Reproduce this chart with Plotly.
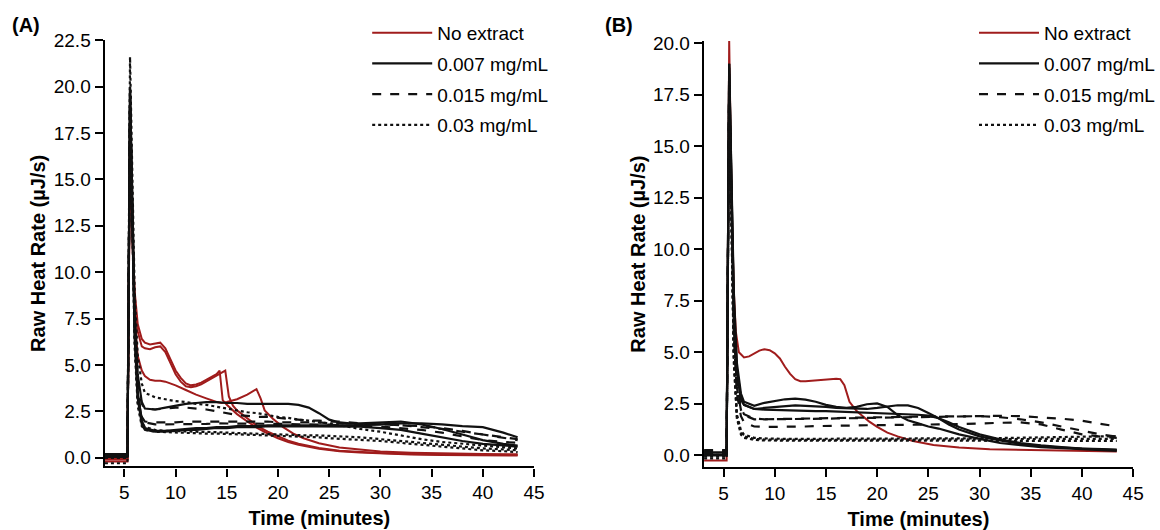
import plotly.graph_objects as go

# ---------------- data ----------------
T = [3.1, 4.0, 5.0, 5.3, 5.55, 5.8, 6.0, 6.3, 6.7, 7.0,
     8, 9, 10, 11, 12, 13, 14, 15, 16, 17, 18, 19, 20, 21, 22, 23, 24, 25, 26, 27, 28,
     30, 32, 34, 36, 38, 40, 42, 43.4]

series_names = ["No extract", "0.007 mg/mL", "0.015 mg/mL", "0.03 mg/mL"]
x_ticks = [5, 10, 15, 20, 25, 30, 35, 40, 45]

# ---- Panel A ----
A_r1_t = [3.1, 5.3, 5.55, 5.8, 6.0, 6.3, 6.7, 7.0, 7.5, 8.0, 8.5, 9.0, 9.5, 10.0, 10.5, 11.0, 11.5, 12.0,
          12.5, 13.0, 13.5, 14.0, 14.3, 14.6, 15.0, 15.5, 16.0, 17.0, 18.0, 19.0, 20.0, 21.0, 22.0, 24.0,
          26.0, 28.0, 30.0, 33.0, 36.0, 40.0, 43.4]
A_r1_y = [-0.1, -0.1, 18.0, 12.0, 9.0, 7.2, 6.4, 6.2, 6.1, 6.15, 6.2, 5.9, 5.3, 4.7, 4.3, 4.0, 3.9, 3.95,
          4.05, 4.2, 4.35, 4.5, 4.7, 3.1, 2.85, 2.6, 2.35, 1.95, 1.6, 1.3, 1.05, 0.85, 0.7, 0.48,
          0.35, 0.28, 0.22, 0.17, 0.15, 0.13, 0.12]
A_r2_t = [3.1, 5.3, 5.55, 5.8, 6.0, 6.3, 6.7, 7.0, 7.5, 8.0, 8.5, 9.0, 9.5, 10.0, 10.5, 11.0, 11.5, 12.0,
          12.5, 13.0, 13.5, 14.0, 14.5, 14.85, 15.2, 15.6, 16.0, 17.0, 18.0, 19.0, 20.0, 21.0, 22.0, 24.0,
          26.0, 28.0, 30.0, 33.0, 36.0, 40.0, 43.4]
A_r2_y = [-0.2, -0.2, 17.5, 11.5, 8.5, 6.8, 6.0, 5.9, 5.85, 5.95, 6.0, 5.7, 5.1, 4.5, 4.1, 3.85, 3.8, 3.85,
          3.95, 4.1, 4.25, 4.4, 4.55, 4.7, 3.3, 2.8, 2.55, 2.1, 1.7, 1.4, 1.15, 0.92, 0.75, 0.52,
          0.38, 0.3, 0.25, 0.2, 0.17, 0.15, 0.14]
A_r3_t = [3.1, 5.3, 5.55, 5.8, 6.0, 6.3, 6.7, 7.0, 7.5, 8.0, 8.5, 9.0, 10.0, 11.0, 12.0, 13.0, 14.0, 14.5,
          15.0, 16.0, 17.0, 17.9, 18.3, 18.7, 19.5, 20.5, 21.5, 22.5, 24.0, 26.0, 28.0, 30.0, 33.0, 36.0,
          40.0, 43.4]
A_r3_y = [-0.05, -0.05, 17.0, 11.0, 7.5, 5.5, 4.7, 4.4, 4.2, 4.15, 4.15, 4.1, 3.9, 3.65, 3.4, 3.2, 3.0, 2.95,
          3.0, 3.15, 3.4, 3.7, 3.2, 2.55, 2.1, 1.65, 1.3, 1.05, 0.78, 0.55, 0.42, 0.33, 0.27, 0.23,
          0.2, 0.19]

A_s1 = [0.2, 0.2, 0.2, 0.2, 20.0, 13.0, 8.0, 4.5, 3.0, 2.65,
        2.6, 2.7, 2.8, 2.9, 2.95, 3.0, 3.0, 2.95, 2.95, 2.9, 2.9, 2.9, 2.9, 2.9, 2.85, 2.7, 2.4, 2.05, 1.9, 1.85, 1.85,
        1.9, 1.95, 1.8, 1.55, 1.25, 0.95, 0.75,
        0.65]
A_s2 = [0.1, 0.1, 0.1, 0.1, 19.5, 12.0, 7.0, 3.5, 2.0, 1.6,
        1.45, 1.45, 1.5, 1.55, 1.6, 1.6, 1.65, 1.65, 1.7, 1.7, 1.7, 1.75, 1.75, 1.75, 1.75, 1.75, 1.75, 1.75, 1.75, 1.75, 1.75,
        1.8, 1.85, 1.85, 1.8, 1.7, 1.65, 1.35,
        1.1]
A_s3 = [0.05, 0.05, 0.05, 0.05, 19.0, 11.5, 6.5, 3.2, 1.8, 1.5,
        1.4, 1.4, 1.45, 1.5, 1.5, 1.55, 1.6, 1.6, 1.65, 1.65, 1.65, 1.7, 1.7, 1.7, 1.7, 1.7, 1.7, 1.7, 1.7, 1.7, 1.68,
        1.6, 1.5, 1.3, 1.1, 0.9, 0.75, 0.65,
        0.6]
A_d1 = [0.2, 0.2, 0.2, 0.2, 20.0, 12.5, 7.5, 4.0, 2.9, 2.65,
        2.6, 2.65, 2.7, 2.7, 2.65, 2.6, 2.5, 2.4, 2.3, 2.25, 2.2, 2.2, 2.15, 2.1, 2.05, 2.0, 2.0, 1.95, 1.95, 1.9, 1.85,
        1.8, 1.75, 1.65, 1.55, 1.4, 1.25, 1.1,
        1.0]
A_d2 = [0.15, 0.15, 0.15, 0.15, 19.5, 12.0, 7.0, 3.5, 2.2, 1.95,
        1.9, 1.9, 1.9, 1.95, 1.95, 1.95, 1.95, 1.95, 1.95, 1.95, 1.95, 1.95, 1.9, 1.9, 1.9, 1.9, 1.9, 1.85, 1.85, 1.85, 1.8,
        1.8, 1.75, 1.7, 1.6, 1.45, 1.25, 1.05,
        0.95]
A_d3 = [0.1, 0.1, 0.1, 0.1, 19.2, 11.8, 6.8, 3.4, 2.1, 1.9,
        1.8, 1.8, 1.8, 1.8, 1.82, 1.82, 1.85, 1.85, 1.85, 1.85, 1.85, 1.85, 1.85, 1.82, 1.8, 1.8, 1.8, 1.78, 1.75, 1.75, 1.72,
        1.68, 1.6, 1.5, 1.35, 1.15, 0.95, 0.85,
        0.8]
A_p1 = [0.0, 0.0, 0.0, 0.0, 21.6, 14.0, 9.0, 5.5, 4.0, 3.5,
        3.25, 3.15, 3.05, 3.0, 2.9, 2.85, 2.75, 2.65, 2.55, 2.45, 2.4, 2.3, 2.2, 2.15, 2.05, 2.0, 1.9, 1.85, 1.75, 1.65, 1.55,
        1.4, 1.2, 1.0, 0.85, 0.75, 0.65, 0.55,
        0.5]
A_p2 = [-0.3, -0.3, -0.3, -0.3, 20.0, 12.0, 6.5, 3.0, 1.9, 1.65,
        1.5, 1.45, 1.45, 1.42, 1.4, 1.4, 1.38, 1.35, 1.33, 1.3, 1.3, 1.28, 1.25, 1.25, 1.22, 1.2, 1.2, 1.18, 1.15, 1.12, 1.1,
        1.0, 0.9, 0.8, 0.7, 0.6, 0.5, 0.45,
        0.4]
A_p3 = [0.0, 0.0, 0.0, 0.0, 19.5, 11.5, 6.0, 2.8, 1.7, 1.5,
        1.4, 1.38, 1.35, 1.35, 1.33, 1.3, 1.3, 1.28, 1.25, 1.25, 1.22, 1.2, 1.2, 1.18, 1.15, 1.12, 1.1, 1.05, 1.02, 1.0, 0.98,
        0.9, 0.8, 0.7, 0.6, 0.5, 0.4, 0.35,
        0.3]

# ---- Panel B ----
B_r_t = [3.1, 5.3, 5.55, 5.8, 6.0, 6.2, 6.5, 7.0, 7.5, 8.0, 8.5, 9.0, 9.5, 10.0, 10.5, 11.0, 11.5, 12.0,
         12.5, 13.0, 14.0, 15.0, 16.0, 16.4, 16.8, 17.3, 18.0, 18.6, 19.2, 20.0, 21.0, 22.0, 23.5, 25.5,
         28.0, 31.0, 34.0, 37.5, 40.0, 43.4]
B_r_y = [-0.25, -0.25, 20.1, 12.0, 8.0, 6.0, 5.0, 4.75, 4.8, 4.95, 5.08, 5.15, 5.1, 4.95, 4.7, 4.3, 3.95, 3.7,
         3.6, 3.6, 3.65, 3.7, 3.72, 3.7, 3.4, 2.6, 2.15, 1.9, 1.65, 1.38, 1.1, 0.92, 0.7, 0.5,
         0.38, 0.3, 0.27, 0.22, 0.2, 0.19]
B_s1 = [0.05, 0.05, 0.05, 0.05, 19.0, 13.0, 8.0, 4.5, 3.0, 2.6,
        2.4, 2.55, 2.65, 2.72, 2.75, 2.7, 2.6, 2.45, 2.35, 2.3, 2.35, 2.48, 2.52, 2.35, 1.95, 1.7, 1.55, 1.4, 1.3, 1.15, 1.02,
        0.8, 0.6, 0.5, 0.4, 0.35, 0.3, 0.25,
        0.22]
B_s2 = [0.15, 0.15, 0.15, 0.15, 19.0, 12.5, 7.5, 4.2, 2.8, 2.45,
        2.25, 2.3, 2.35, 2.4, 2.42, 2.4, 2.38, 2.35, 2.3, 2.28, 2.25, 2.25, 2.3, 2.38, 2.43, 2.42, 2.3, 2.05, 1.8, 1.5, 1.25,
        0.92, 0.72, 0.56, 0.45, 0.38, 0.32, 0.28,
        0.26]
B_s3 = [0.0, 0.0, 0.0, 0.0, 18.8, 12.0, 7.2, 4.0, 2.7, 2.45,
        2.25, 2.22, 2.2, 2.2, 2.18, 2.17, 2.15, 2.15, 2.13, 2.12, 2.1, 2.1, 2.08, 2.05, 2.02, 2.0, 1.97, 1.93, 1.8, 1.6, 1.38,
        1.02, 0.78, 0.6, 0.48, 0.4, 0.33, 0.3,
        0.28]
B_d1 = [0.25, 0.25, 0.25, 0.25, 18.5, 11.5, 6.5, 3.5, 2.3, 2.0,
        1.78, 1.75, 1.75, 1.75, 1.76, 1.77, 1.78, 1.78, 1.79, 1.8, 1.8, 1.82, 1.82, 1.83, 1.85, 1.85, 1.87, 1.88, 1.88, 1.9, 1.9,
        1.92, 1.92, 1.9, 1.85, 1.78, 1.68, 1.52,
        1.4]
B_d2 = [0.2, 0.2, 0.2, 0.2, 18.3, 11.2, 6.2, 3.3, 2.2, 1.95,
        1.75, 1.75, 1.76, 1.78, 1.79, 1.8, 1.8, 1.82, 1.82, 1.83, 1.84, 1.85, 1.85, 1.86, 1.87, 1.88, 1.88, 1.88, 1.89, 1.9, 1.9,
        1.9, 1.85, 1.75, 1.6, 1.4, 1.2, 1.0,
        0.9]
B_d3 = [0.12, 0.12, 0.12, 0.12, 18.0, 10.8, 5.8, 3.0, 1.9, 1.6,
        1.4, 1.38, 1.38, 1.38, 1.4, 1.4, 1.42, 1.42, 1.44, 1.45, 1.45, 1.46, 1.47, 1.47, 1.48, 1.48, 1.49, 1.5, 1.5, 1.5, 1.52,
        1.55, 1.58, 1.6, 1.5, 1.25, 1.02, 0.9,
        0.85]
B_p1 = [-0.05, -0.05, -0.05, -0.05, 18.0, 10.0, 5.0, 2.0, 1.2, 1.0,
        0.85, 0.82, 0.8, 0.8, 0.8, 0.8, 0.8, 0.8, 0.8, 0.8, 0.8, 0.8, 0.8, 0.8, 0.8, 0.8, 0.8, 0.8, 0.82, 0.82, 0.82,
        0.83, 0.84, 0.85, 0.86, 0.88, 0.9, 0.92,
        0.93]
B_p2 = [-0.15, -0.15, -0.15, -0.15, 17.8, 9.5, 4.5, 1.8, 1.0, 0.85,
        0.75, 0.72, 0.72, 0.71, 0.71, 0.7, 0.7, 0.7, 0.7, 0.7, 0.7, 0.7, 0.7, 0.7, 0.7, 0.7, 0.7, 0.7, 0.7, 0.7, 0.7,
        0.7, 0.7, 0.7, 0.7, 0.7, 0.7, 0.7,
        0.7]
B_p3 = [0.02, 0.02, 0.02, 0.02, 17.9, 9.8, 4.8, 1.9, 1.1, 0.92,
        0.8, 0.77, 0.76, 0.76, 0.75, 0.75, 0.75, 0.75, 0.75, 0.75, 0.75, 0.76, 0.76, 0.76, 0.76, 0.77, 0.77, 0.77, 0.78, 0.78, 0.78,
        0.78, 0.79, 0.8, 0.8, 0.8, 0.8, 0.8,
        0.8]

# ---------------- styling ----------------
RED = "#a01c1c"
BLACK = "#111111"
FONT = "Liberation Sans, Arial, sans-serif"
styles = {
    "No extract": dict(color=RED, width=2, dash="solid"),
    "0.007 mg/mL": dict(color=BLACK, width=2.2, dash="solid"),
    "0.015 mg/mL": dict(color=BLACK, width=2.2, dash="dash"),
    "0.03 mg/mL": dict(color=BLACK, width=2.2, dash="dot"),
}

panelA = [
    ("No extract", [(A_r1_t, A_r1_y), (A_r2_t, A_r2_y), (A_r3_t, A_r3_y)]),
    ("0.007 mg/mL", [(T, A_s1), (T, A_s2), (T, A_s3)]),
    ("0.015 mg/mL", [(T, A_d1), (T, A_d2), (T, A_d3)]),
    ("0.03 mg/mL", [(T, A_p1), (T, A_p2), (T, A_p3)]),
]
panelB = [
    ("No extract", [(B_r_t, B_r_y)]),
    ("0.007 mg/mL", [(T, B_s1), (T, B_s2), (T, B_s3)]),
    ("0.015 mg/mL", [(T, B_d1), (T, B_d2), (T, B_d3)]),
    ("0.03 mg/mL", [(T, B_p1), (T, B_p2), (T, B_p3)]),
]

fig = go.Figure()


def add_panel(groups, xa, ya, leg, suffix):
    # red first (drawn underneath), black groups after
    for rank, (name, curves) in enumerate(groups):
        for i, (tx, ty) in enumerate(curves):
            fig.add_trace(go.Scatter(
                x=tx, y=ty, mode="lines", name=name,
                line=styles[name],
                xaxis=xa, yaxis=ya,
                legend=leg, legendgroup=name + suffix, legendrank=rank + 1,
                showlegend=(i == 0), hoverinfo="skip",
            ))


add_panel(panelA, "x", "y", "legend", "A")
add_panel(panelB, "x2", "y2", "legend2", "B")

W, H = 1160, 530


def px_x(p):
    return p / W


def px_y(p):
    return 1 - p / H


axis_common = dict(
    showline=True, linecolor="black", linewidth=2.2,
    ticks="outside", ticklen=8, tickwidth=2, tickcolor="black",
    showgrid=False, zeroline=False, mirror=False,
    tickfont=dict(family=FONT, size=19, color="black"),
    title_font=dict(family=FONT, size=20, color="black"),
)

legend_common = dict(
    font=dict(family=FONT, size=19, color="black"),
    bgcolor="rgba(0,0,0,0)", xanchor="left", yanchor="top",
    traceorder="grouped", tracegroupgap=3, itemwidth=60,
)

fig.update_layout(
    width=W, height=H,
    margin=dict(l=0, r=0, t=0, b=0),
    paper_bgcolor="white", plot_bgcolor="white",
    font=dict(family=FONT, color="black"),
    xaxis=dict(axis_common, domain=[px_x(106), px_x(541)], range=[3.07, 45],
               tickvals=x_ticks, anchor="y",
               title=dict(text="<b>Time (minutes)</b>", standoff=9)),
    yaxis=dict(axis_common, domain=[px_y(467), px_y(31)], range=[-0.47, 22.5],
               dtick=2.5, tick0=0, tickformat=".1f", anchor="x",
               title=dict(text="<b>Raw Heat Rate (µJ/s)</b>", standoff=3)),
    xaxis2=dict(axis_common, domain=[px_x(713), px_x(1148)], range=[3.07, 45],
                tickvals=x_ticks, anchor="y2",
                title=dict(text="<b>Time (minutes)</b>", standoff=9)),
    yaxis2=dict(axis_common, domain=[px_y(467.7), px_y(31.7)], range=[-0.57, 20.1],
                dtick=2.5, tick0=0, tickformat=".1f", anchor="x2",
                title=dict(text="<b>Raw Heat Rate (µJ/s)</b>", standoff=2)),
    legend=dict(legend_common, x=px_x(372), y=px_y(4)),
    legend2=dict(legend_common, x=px_x(987), y=px_y(4)),
    annotations=[
        dict(text="<b>(A)</b>", x=px_x(10), y=px_y(2), xref="paper", yref="paper",
             xanchor="left", yanchor="top", showarrow=False,
             font=dict(family=FONT, size=20, color="black")),
        dict(text="<b>(B)</b>", x=px_x(611), y=px_y(2), xref="paper", yref="paper",
             xanchor="left", yanchor="top", showarrow=False,
             font=dict(family=FONT, size=20, color="black")),
    ],
)

fig.write_html("out.html")
